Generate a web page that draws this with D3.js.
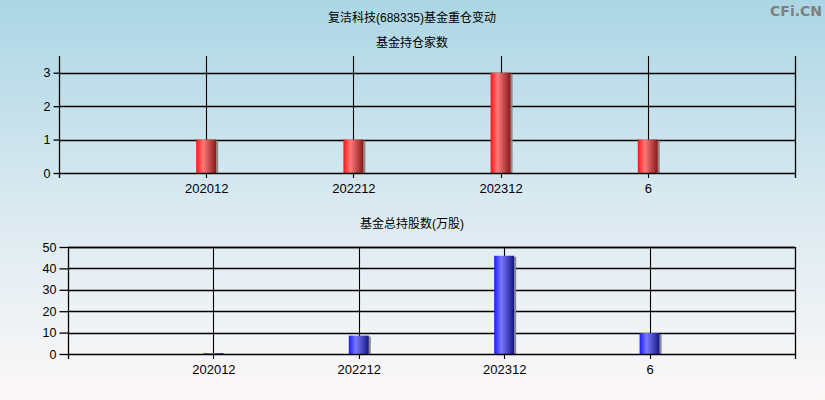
<!DOCTYPE html>
<html><head><meta charset="utf-8">
<script src="https://cdn.jsdelivr.net/npm/d3@7"></script>
<style>html,body{margin:0;padding:0;overflow:hidden;}svg{display:block;}</style>
</head><body>
<script>
const title = "复洁科技(688335)基金重仓变动";
const watermark = "CFi.CN";
const categories = ["202012", "202212", "202312", "6"];
const subtitleTop = "基金持仓家数";
const fundCounts = [1, 1, 3, 1];
const countTicks = [0, 1, 2, 3];
const subtitleBottom = "基金总持股数(万股)";
const fundShares = [0.4, 8.6, 45.9, 9.8];
const shareTicks = [0, 10, 20, 30, 40, 50];

const W = 825, H = 400;
const font = "'Liberation Sans','Noto Sans CJK SC',sans-serif";
const numFont = "'Liberation Sans',sans-serif";
const svg = d3.select("body").append("svg").attr("width", W).attr("height", H);
const defs = svg.append("defs");

const bg = defs.append("linearGradient").attr("id","bg").attr("x1",0).attr("y1",0).attr("x2",0).attr("y2",1);
bg.append("stop").attr("offset",0).attr("stop-color","#abd6e5");
bg.append("stop").attr("offset",0.5).attr("stop-color","#d9e9f0");
bg.append("stop").attr("offset",1).attr("stop-color","#fdf8f8");
svg.append("rect").attr("width",W).attr("height",H).attr("fill","url(#bg)");

function barGrad(id, c0, c1, c2){
  const g = defs.append("linearGradient").attr("id",id).attr("x1",0).attr("y1",0).attr("x2",1).attr("y2",0);
  g.append("stop").attr("offset",0).attr("stop-color",c0);
  g.append("stop").attr("offset",0.35).attr("stop-color",c1);
  g.append("stop").attr("offset",1).attr("stop-color",c2);
}
barGrad("redg","#ff1414","#ff7a7a","#861818");
barGrad("blueg","#1a1aff","#7a7aff","#14147e");

svg.append("text").attr("x",412).attr("y",22).attr("text-anchor","middle")
  .attr("font-family",font).attr("font-size",12).attr("fill","#000").text(title);
svg.append("text").attr("x",822).attr("y",16).attr("text-anchor","end")
  .attr("font-family","'DejaVu Sans',sans-serif").attr("font-weight","bold").attr("font-size",14)
  .attr("fill","#808080").text(watermark);

function panel(cfg){
  const g = svg.append("g");
  const x = d3.scaleLinear().domain([0, categories.length + 1]).range([cfg.left, cfg.right]);
  const y = d3.scaleLinear().domain([0, cfg.max]).range([cfg.bottom, cfg.top]);
  g.append("text").attr("x",412).attr("y",cfg.subY).attr("text-anchor","middle")
    .attr("font-family",font).attr("font-size",12).attr("fill","#000").text(cfg.sub);
  g.selectAll(".hg").data(cfg.ticks.filter(t=>t>0)).join("line")
    .attr("x1",cfg.left).attr("x2",cfg.right)
    .attr("y1",d=>Math.round(y(d))+0.5).attr("y2",d=>Math.round(y(d))+0.5)
    .attr("stroke","#000").attr("stroke-width",1.3);
  const xs = categories.map((c,i)=>i+1);
  g.selectAll(".vg").data(xs).join("line")
    .attr("x1",d=>Math.round(x(d))+0.5).attr("x2",d=>Math.round(x(d))+0.5)
    .attr("y1",cfg.top).attr("y2",cfg.bottom+5)
    .attr("stroke","#000").attr("stroke-width",1.1);
  g.append("line").attr("x1",cfg.right+0.5).attr("x2",cfg.right+0.5)
    .attr("y1",cfg.top).attr("y2",cfg.bottom+5).attr("stroke","#000").attr("stroke-width",1.3);
  const bw = 20;
  g.selectAll(".sh").data(cfg.values).join("rect")
    .attr("x",(d,i)=>x(i+1)-bw/2+bw).attr("width",2)
    .attr("y",d=>y(d)+1).attr("height",d=>Math.max(0,cfg.bottom-y(d)-1))
    .attr("fill","#8a8a8a");
  g.selectAll(".bar").data(cfg.values).join("rect")
    .attr("x",(d,i)=>x(i+1)-bw/2).attr("width",bw)
    .attr("y",d=>y(d)).attr("height",d=>cfg.bottom-y(d))
    .attr("fill",`url(#${cfg.grad})`);
  const ya = d3.axisLeft(y).tickValues(cfg.ticks).tickSize(cfg.tick).tickPadding(3).tickFormat(d3.format("d"));
  const yg = g.append("g").attr("transform",`translate(${cfg.left+0.5},0)`).call(ya);
  yg.select(".domain").attr("d",`M0,${cfg.top}V${cfg.bottom}`).attr("stroke-width",1.3);
  yg.selectAll(".tick line").attr("stroke-width",1.3);
  yg.selectAll("text").attr("font-family",numFont).attr("font-size",12.5).attr("fill","#000");
  const xa = d3.axisBottom(x).tickValues(xs).tickSize(0).tickPadding(10).tickFormat(d=>categories[d-1]);
  const xg = g.append("g").attr("transform",`translate(0,${cfg.bottom+0.5})`).call(xa);
  xg.select(".domain").attr("d",`M${cfg.left},0H${cfg.right}`).attr("stroke-width",1.3);
  xg.selectAll("text").attr("font-family",numFont).attr("font-size",13).attr("fill","#000");
  g.append("line").attr("x1",cfg.left+0.5).attr("x2",cfg.left+0.5).attr("y1",cfg.bottom).attr("y2",cfg.bottom+5)
    .attr("stroke","#000").attr("stroke-width",1.3);
  if(cfg.topBorder){
    g.append("line").attr("x1",cfg.left).attr("x2",cfg.right).attr("y1",cfg.top+0.5).attr("y2",cfg.top+0.5)
      .attr("stroke","#000").attr("stroke-width",1.3);
  }
}

panel({left:59,right:795,top:56,bottom:173,max:3.5,ticks:countTicks,values:fundCounts,grad:"redg",sub:subtitleTop,subY:47,topBorder:false,tick:6});
panel({left:68,right:795,top:247,bottom:354,max:50,ticks:shareTicks,values:fundShares,grad:"blueg",sub:subtitleBottom,subY:228,topBorder:true,tick:9});
</script>
</body></html>
